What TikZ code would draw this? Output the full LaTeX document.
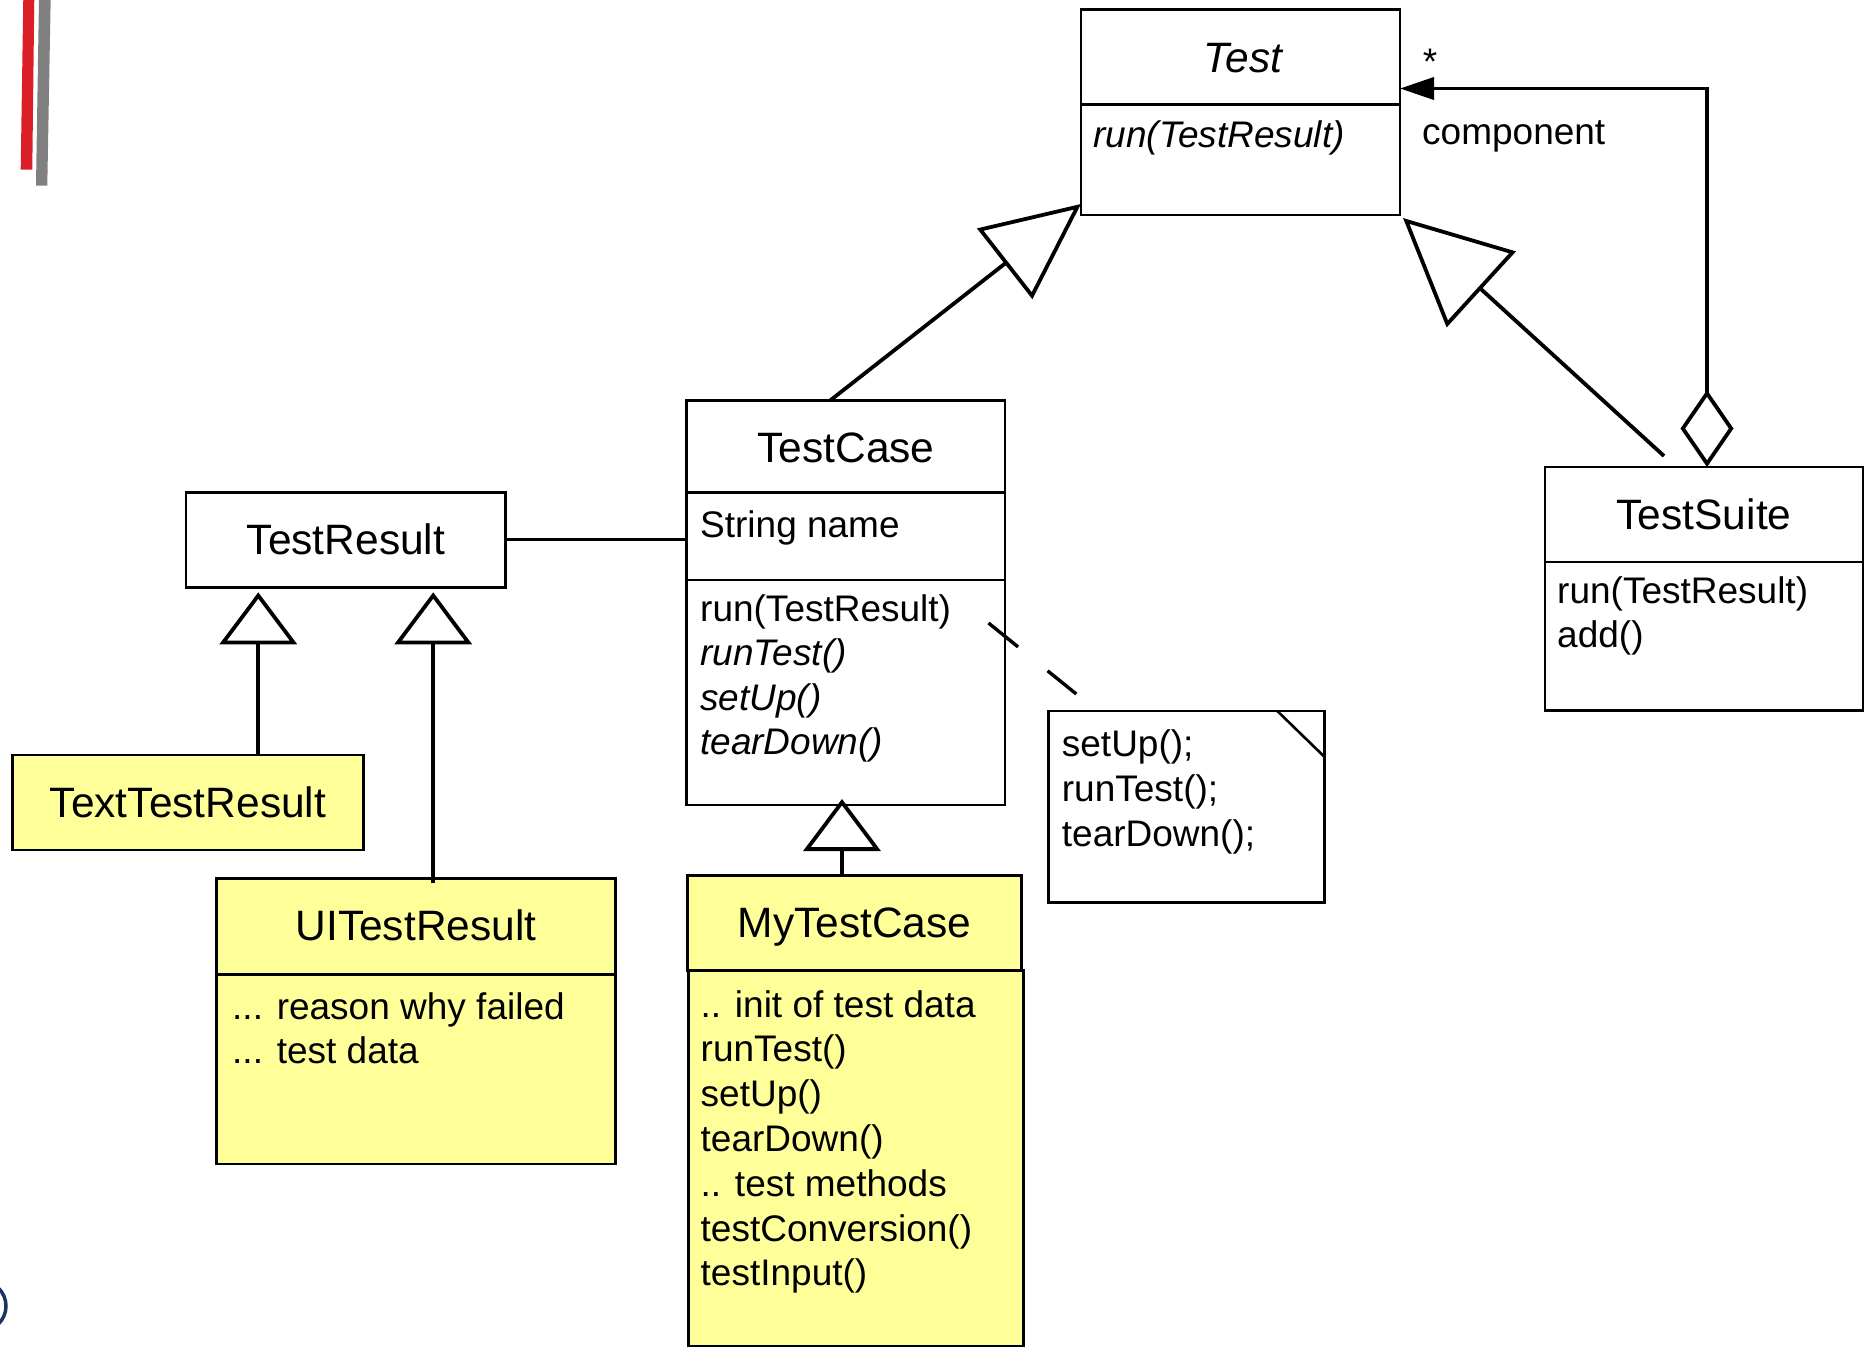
\documentclass[tikz,border=0pt]{standalone}
\usepackage{fontspec}
\setmainfont{Liberation Sans}
\usetikzlibrary{arrows.meta,calc}
\definecolor{uyellow}{RGB}{255,255,153}
\definecolor{ured}{RGB}{218,32,38}
\definecolor{ugray}{RGB}{128,128,128}
\definecolor{unavy}{RGB}{27,52,100}
\begin{document}
\begin{tikzpicture}[x=1pt,y=-1pt,
  box/.style={draw, line width=2.6pt, rectangle, inner sep=0pt, outer sep=0pt, anchor=north west},
  yel/.style={fill=uyellow},
  conn/.style={line width=3.8pt},
  namet/.style={font=\fontsize{42.5}{50}\selectfont, inner sep=0pt, anchor=base},
  memt/.style={font=\fontsize{37}{44}\selectfont, inner sep=0pt, anchor=base west},
  genS/.style={conn, -{Triangle[open, length=52pt, width=77pt]}},
]
\useasboundingbox (0,0) rectangle (1865,1350);

% decorations at the left edge
\fill[ured] (23.3,-2) -- (34.3,-2) -- (32.3,169.7) -- (20.7,169.7) -- cycle;
\fill[ugray] (39,-2) -- (50.7,-2) -- (47.3,185.7) -- (36,185.7) -- cycle;
\draw[unavy, line width=3.5pt] (-19,1306) circle[radius=25pt];

% boxes
\node[box, minimum width=319pt, minimum height=95pt] (testH) at (1081,9.5) {};
\node[box, minimum width=319pt, minimum height=110.5pt] (testB) at (1081,104.5) {};

\node[box, minimum width=318.3pt, minimum height=91.6pt] (tcH) at (686.7,400.7) {};
\node[box, minimum width=318.3pt, minimum height=87.7pt] (tcA) at (686.7,492.3) {};
\node[box, minimum width=318.3pt, minimum height=225pt] (tcM) at (686.7,580) {};

\node[box, minimum width=319.7pt, minimum height=95pt] (tr) at (186,492.3) {};
\node[box, yel, minimum width=351pt, minimum height=95pt] (ttr) at (12.3,755) {};

\node[box, yel, minimum width=399pt, minimum height=96pt] (uiH) at (216.7,878.3) {};
\node[box, yel, minimum width=399pt, minimum height=189.7pt] (uiA) at (216.7,974.3) {};

\node[box, yel, minimum width=334pt, minimum height=95pt] (mH) at (687.5,875.5) {};
\node[box, yel, minimum width=335pt, minimum height=375.5pt] (mA) at (688.7,970.5) {};

\node[box, minimum width=318pt, minimum height=95pt] (tsH) at (1545,467) {};
\node[box, minimum width=318pt, minimum height=148.7pt] (tsB) at (1545,562) {};

\node[box, minimum width=276pt, minimum height=191.7pt] (note) at (1048.3,711) {};
\draw[line width=2.6pt] ([xshift=-47pt]note.north east) -- ([yshift=-45.7pt]note.north east);

% texts
\node[namet] (nTest) at (1243,72) {\itshape Test};
\node[memt] (mTest) at (1093,147) {\itshape run(TestResult)};
\node[memt, anchor=base] (star) at (1430,74) {*};
\node[memt] (lcomp) at (1422,144) {component};

\node[namet] (nTC) at (846,462) {TestCase};
\node[memt] (aTC) at (700,537) {String name};
\node[memt] (tcm1) at (700,621) {run(TestResult)};
\node[memt] (tcm2) at (700,665.5) {\itshape runTest()};
\node[memt] (tcm3) at (700,710) {\itshape setUp()};
\node[memt] (tcm4) at (700,754.5) {\itshape tearDown()};

\node[namet] (nTR) at (346,554) {TestResult};
\node[namet] (nTTR) at (188,817) {TextTestResult};

\node[namet] (nUI) at (416,940) {UITestResult};
\node[memt] (ui1) at (232,1019) {... reason why failed};
\node[memt] (ui2) at (232,1063) {... test data};

\node[namet] (nMy) at (854.5,937) {MyTestCase};
\node[memt] (my1) at (700.5,1017) {.. init of test data};
\node[memt] (my2) at (700.5,1061.8) {runTest()};
\node[memt] (my3) at (700.5,1106.6) {setUp()};
\node[memt] (my4) at (700.5,1151.4) {tearDown()};
\node[memt] (my5) at (700.5,1196.2) {.. test methods};
\node[memt] (my6) at (700.5,1241) {testConversion()};
\node[memt] (my7) at (700.5,1285.8) {testInput()};

\node[memt] (no1) at (1061.7,756) {setUp();};
\node[memt] (no2) at (1061.7,801) {runTest();};
\node[memt] (no3) at (1061.7,846) {tearDown();};

\node[namet] (nTS) at (1704,529) {TestSuite};
\node[memt] (ts1) at (1557,603) {run(TestResult)};
\node[memt] (ts2) at (1557,647) {add()};

% connectors
\draw[conn, -{Triangle[open, length=97pt, width=89pt]}]
  ([xshift=-16pt]tcH.north) -- ([yshift=11pt]testB.south west);
\draw[conn, -{Triangle[open, length=106pt, width=102pt]}]
  ([xshift=-40pt,yshift=11pt]tsH.north) -- ([xshift=3pt,yshift=-3pt]testB.south east);
\draw[conn, {Diamond[open, length=77pt, width=53pt]}-{Triangle[length=34pt, width=22pt]}]
  ([xshift=3pt]tsH.north) |- ([yshift=16pt]testH.south east);
\draw[conn, line width=3.2pt] (tr.east) -- (tr.east -| tcA.west);

\coordinate (g1) at ([xshift=70.5pt]ttr.north);
\draw[genS, shorten >=5pt] (g1) -- (g1 |- tr.south);
\coordinate (g2) at ([xshift=17pt,yshift=-5pt]uiH.north);
\draw[genS, shorten >=5pt] (g2) -- (g2 |- tr.south);
\coordinate (g3) at ([xshift=-12.5pt]mH.north);
\draw[genS, shorten >=-6pt] (g3) -- (g3 |- tcM.south);

\coordinate (d1) at ([xshift=-16.5pt,yshift=-43pt]tcM.north east);
\coordinate (d2) at ([xshift=28pt,yshift=17pt]note.north west);
\draw[line width=3.4pt, dash pattern=on 38pt off 38pt] (d1) -- (d2);
\end{tikzpicture}
\end{document}
